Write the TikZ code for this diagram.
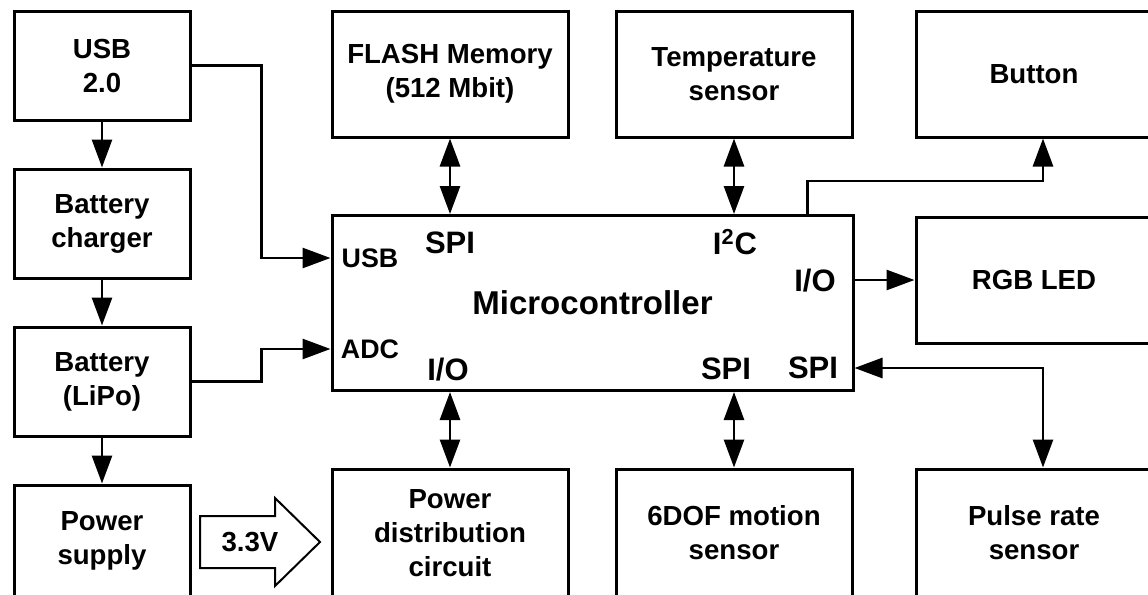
\documentclass[tikz,border=0pt]{standalone}
\usepackage{fontspec}
\setmainfont{Liberation Sans}
\usetikzlibrary{arrows.meta, positioning}

\begin{document}
\begin{tikzpicture}[
  x=0.5pt, y=-0.5pt,
  node distance=23pt,
  every node/.style={font=\bfseries\fontsize{13.8}{17}\selectfont},
  blk/.style={draw, line width=1.5pt, align=center, inner sep=0pt,
              minimum width=118pt, minimum height=63pt},
  side/.style={blk, minimum width=88pt, minimum height=54.5pt},
  port/.style={font=\bfseries\fontsize{15.5}{18}\selectfont, inner sep=0pt},
  pin/.style={font=\bfseries\fontsize{13.4}{16}\selectfont, inner sep=0pt},
  arr/.style={-{Triangle[length=14pt, width=10pt]}, line width=1.4pt},
  darr/.style={{Triangle[length=14pt, width=10pt]}-{Triangle[length=14pt, width=10pt]},
               line width=1.4pt}
]
\useasboundingbox (0,0) rectangle (1148,595);
\clip (0,0) rectangle (1148,595);

% power chain on the left
\node[side] (usb) at (102,65.5) {USB\\2.0};
\node[side, below=of usb] (chg) {Battery\\charger};
\node[side, below=of chg] (bat) {Battery\\(LiPo)};
\node[side, below=of bat, minimum height=56pt] (psu) {Power\\supply};

% peripherals
\node[blk] (flash) at (450,74) {FLASH Memory\\(512 Mbit)};
\node[blk] (temp) at (734,74) {Temperature\\sensor};
\node[blk] (btn) at (1034,74) {Button};
\node[blk] (rgb) at (1034,280) {RGB LED};
\node[blk, minimum height=64pt] (pdc) at (450,533) {Power\\distribution\\circuit};
\node[blk, minimum height=64pt] (mot) at (734,533) {6DOF motion\\sensor};
\node[blk, minimum height=64pt] (pls) at (1034,533) {Pulse rate\\sensor};

% microcontroller and its ports
\node[blk, minimum width=260.5pt, minimum height=87.5pt,
      font=\bfseries\fontsize{16.5}{20}\selectfont] (mcu) at (592.5,303) {Microcontroller};
\node[port] (lspi) at (450,243) {SPI};
\node[port] (li2c) at (735,242) {I\textsuperscript{2}C};
\node[pin] (lusb) at (370,258) {USB};
\node[pin] (ladc) at (370,349) {ADC};
\node[port] (lio) at (815,281) {I/O};
\node[port] (lio2) at (448,370) {I/O};
\node[port] (lspi2) at (726,369) {SPI};
\node[port] (lspi3) at (813,368) {SPI};

% 3.3V supply arrow
\draw[line width=1pt] (200,516) -- (275,516) -- (275,498) -- (320,542)
  -- (275,586) -- (275,568) -- (200,568) -- cycle;
\node (volt) at (250,542) {3.3V};

\draw[arr] (usb) -- (chg);
\draw[arr] (chg) -- (bat);
\draw[arr] (bat) -- (psu);
\draw[arr] (usb.east) -- ++(70,0) |- (mcu.west |- lusb);
\draw[arr] (bat.east) -- ++(70,0) |- (mcu.west |- ladc);
\draw[darr] (flash.south) -- (flash.south |- mcu.north);
\draw[darr] (temp.south) -- (temp.south |- mcu.north);
\draw[darr] (pdc.north) -- (pdc.north |- mcu.south);
\draw[darr] (mot.north) -- (mot.north |- mcu.south);
\draw[arr] ([xshift=-23.5pt]mcu.north east) -- ++(0,-33) -| ([xshift=4.5pt]btn.south);
\draw[arr] (mcu.east |- rgb) -- (rgb.west);
\draw[darr] ([xshift=4.5pt]pls.north) |- (mcu.east |- lspi3);
\end{tikzpicture}
\end{document}
